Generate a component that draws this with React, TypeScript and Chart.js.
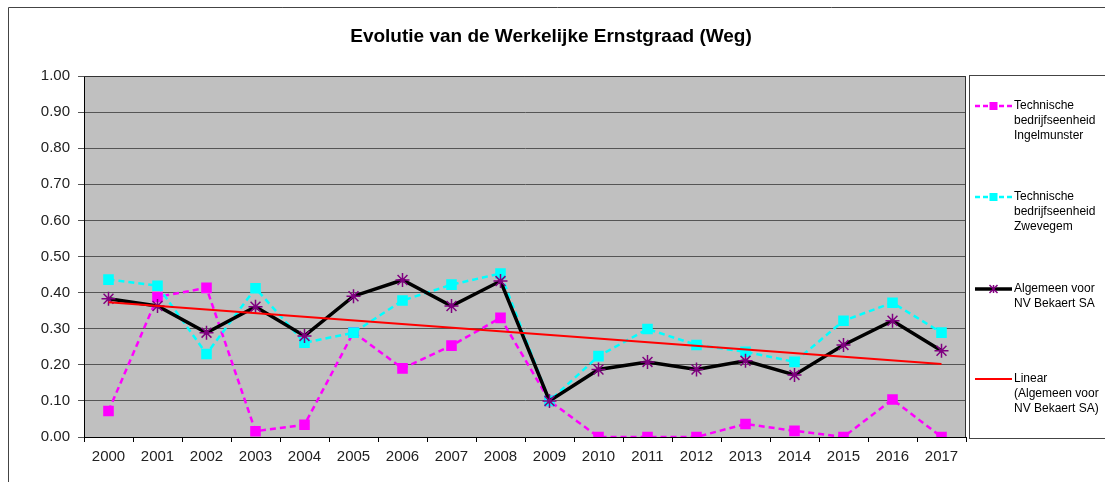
import React, { useEffect, useRef } from "react";
import { Chart, registerables } from "chart.js";

Chart.register(...registerables);

const years = ["2000","2001","2002","2003","2004","2005","2006","2007","2008","2009","2010","2011","2012","2013","2014","2015","2016","2017"];
const ingelmunster = [0.072,0.388,0.413,0.016,0.034,0.29,0.19,0.253,0.33,0.10,0,0,0,0.036,0.017,0,0.104,0];
const zwevegem = [0.436,0.419,0.23,0.412,0.261,0.289,0.378,0.422,0.453,0.10,0.224,0.299,0.255,0.236,0.208,0.322,0.372,0.289];
const algemeen = [0.383,0.363,0.289,0.361,0.28,0.39,0.435,0.363,0.432,0.10,0.187,0.208,0.187,0.211,0.172,0.255,0.322,0.239];
const trendStart = 0.373;
const trendEnd = 0.202;
const yTicks = [0,0.1,0.2,0.3,0.4,0.5,0.6,0.7,0.8,0.9,1.0];

const title = "Evolutie van de Werkelijke Ernstgraad (Weg)";
const legendItems = [
  { lines: ["Technische", "bedrijfseenheid", "Ingelmunster"], color: "#FF00FF", dash: [5, 3], width: 2.5, marker: "rect", markerColor: "#FF00FF", y: 106 },
  { lines: ["Technische", "bedrijfseenheid", "Zwevegem"], color: "#00FFFF", dash: [5, 3], width: 2.5, marker: "rect", markerColor: "#00FFFF", y: 197 },
  { lines: ["Algemeen voor", "NV Bekaert SA"], color: "#000000", dash: [], width: 3.5, marker: "star", markerColor: "#800080", y: 289 },
  { lines: ["Linear", "(Algemeen voor", "NV Bekaert SA)"], color: "#FF0000", dash: [], width: 2, marker: "none", markerColor: "", y: 379 },
];

const FONT = "'Liberation Sans', Arial, sans-serif";

const decorPlugin = {
  id: "decor",
  beforeDraw(chart: any) {
    const { ctx, chartArea } = chart;
    ctx.save();
    ctx.fillStyle = "#fff";
    ctx.fillRect(0, 0, chart.width, chart.height);
    ctx.strokeStyle = "#444";
    ctx.lineWidth = 1;
    ctx.beginPath();
    ctx.moveTo(8.5, chart.height + 2);
    ctx.lineTo(8.5, 7.5);
    ctx.lineTo(chart.width + 2, 7.5);
    ctx.stroke();
    ctx.fillStyle = "#000";
    ctx.font = `bold 19px ${FONT}`;
    ctx.textAlign = "center";
    ctx.textBaseline = "middle";
    ctx.fillText(title, 551, 37);
    ctx.fillStyle = "#C0C0C0";
    ctx.fillRect(chartArea.left, chartArea.top, chartArea.right - chartArea.left, chartArea.bottom - chartArea.top);
    ctx.restore();
  },
  afterDatasetsDraw(chart: any) {
    const { ctx, chartArea } = chart;
    ctx.save();
    ctx.strokeStyle = "#333";
    ctx.lineWidth = 1;
    ctx.beginPath();
    ctx.moveTo(chartArea.left, chartArea.top + 0.5);
    ctx.lineTo(chartArea.right - 0.5, chartArea.top + 0.5);
    ctx.lineTo(chartArea.right - 0.5, chartArea.bottom);
    ctx.stroke();
    ctx.strokeStyle = "#444";
    ctx.strokeRect(969.5, 75.5, 200, 363);
    legendItems.forEach((it) => {
      ctx.save();
      ctx.strokeStyle = it.color;
      ctx.lineWidth = it.width;
      ctx.setLineDash(it.dash);
      ctx.beginPath();
      ctx.moveTo(975, it.y);
      ctx.lineTo(1012, it.y);
      ctx.stroke();
      ctx.restore();
      const cx = 993.5;
      if (it.marker === "rect") {
        ctx.fillStyle = it.markerColor;
        ctx.fillRect(cx - 4, it.y - 4, 8, 8);
      } else if (it.marker === "star") {
        ctx.strokeStyle = it.markerColor;
        ctx.lineWidth = 1.5;
        const r = 4;
        ctx.beginPath();
        ctx.moveTo(cx - r, it.y - r); ctx.lineTo(cx + r, it.y + r);
        ctx.moveTo(cx - r, it.y + r); ctx.lineTo(cx + r, it.y - r);
        ctx.moveTo(cx, it.y - r); ctx.lineTo(cx, it.y + r);
        ctx.stroke();
      }
      ctx.fillStyle = "#000";
      ctx.font = `12px ${FONT}`;
      ctx.textAlign = "left";
      ctx.textBaseline = "middle";
      it.lines.forEach((l, i) => ctx.fillText(l, 1014, it.y + i * 15));
    });
    ctx.restore();
  },
};

export default function App() {
  const ref = useRef<HTMLCanvasElement>(null);
  useEffect(() => {
    if (!ref.current) return;
    const chart = new Chart(ref.current, {
      type: "line",
      data: {
        labels: years,
        datasets: [
          {
            label: "Linear (Algemeen voor NV Bekaert SA)",
            data: [{ x: years[0], y: trendStart }, { x: years[years.length - 1], y: trendEnd }] as any,
            borderColor: "#FF0000",
            borderWidth: 2,
            pointRadius: 0,
            order: 1,
          },
          {
            label: "Algemeen voor NV Bekaert SA",
            data: algemeen,
            borderColor: "#000000",
            borderWidth: 3.5,
            pointStyle: "star",
            pointRadius: 7,
            pointBorderColor: "#800080",
            pointBackgroundColor: "#800080",
            pointBorderWidth: 1.5,
            order: 2,
          },
          {
            label: "Technische bedrijfseenheid Zwevegem",
            data: zwevegem,
            borderColor: "#00FFFF",
            borderWidth: 2.5,
            borderDash: [6, 4],
            pointStyle: "rect",
            pointRadius: 7.5,
            pointBackgroundColor: "#00FFFF",
            pointBorderWidth: 0,
            order: 3,
          },
          {
            label: "Technische bedrijfseenheid Ingelmunster",
            data: ingelmunster,
            borderColor: "#FF00FF",
            borderWidth: 2.5,
            borderDash: [6, 4],
            pointStyle: "rect",
            pointRadius: 7.5,
            pointBackgroundColor: "#FF00FF",
            pointBorderWidth: 0,
            order: 4,
          },
        ],
      },
      options: {
        animation: false,
        responsive: false,
        layout: { padding: { left: 0, top: 76, right: 139, bottom: 0 } },
        plugins: { legend: { display: false }, title: { display: false }, tooltip: { enabled: false } },
        scales: {
          x: {
            type: "category",
            offset: true,
            afterFit: (s: any) => { s.height = 45; },
            grid: { offset: true, drawOnChartArea: false, drawTicks: true, tickLength: 5, color: "#000" },
            border: { display: true, color: "#000", width: 1 },
            ticks: { font: { family: FONT, size: 15 }, color: "#222", padding: 6, maxRotation: 0, autoSkip: false },
          },
          y: {
            min: 0,
            max: 1,
            afterFit: (s: any) => { s.width = 84; },
            afterBuildTicks: (s: any) => { s.ticks = yTicks.map((v) => ({ value: v })); },
            grid: { color: "#555", drawTicks: true, tickLength: 6, lineWidth: 1 },
            border: { display: true, color: "#000", width: 1 },
            ticks: { font: { family: FONT, size: 15 }, color: "#222", padding: 8, callback: (v: any) => Number(v).toFixed(2) },
          },
        },
      },
      plugins: [decorPlugin],
    });
    return () => chart.destroy();
  }, []);
  return (
    <div style={{ position: "fixed", left: 0, top: 0, width: 1105, height: 482 }}>
      <canvas ref={ref} width={1105} height={482} />
    </div>
  );
}
